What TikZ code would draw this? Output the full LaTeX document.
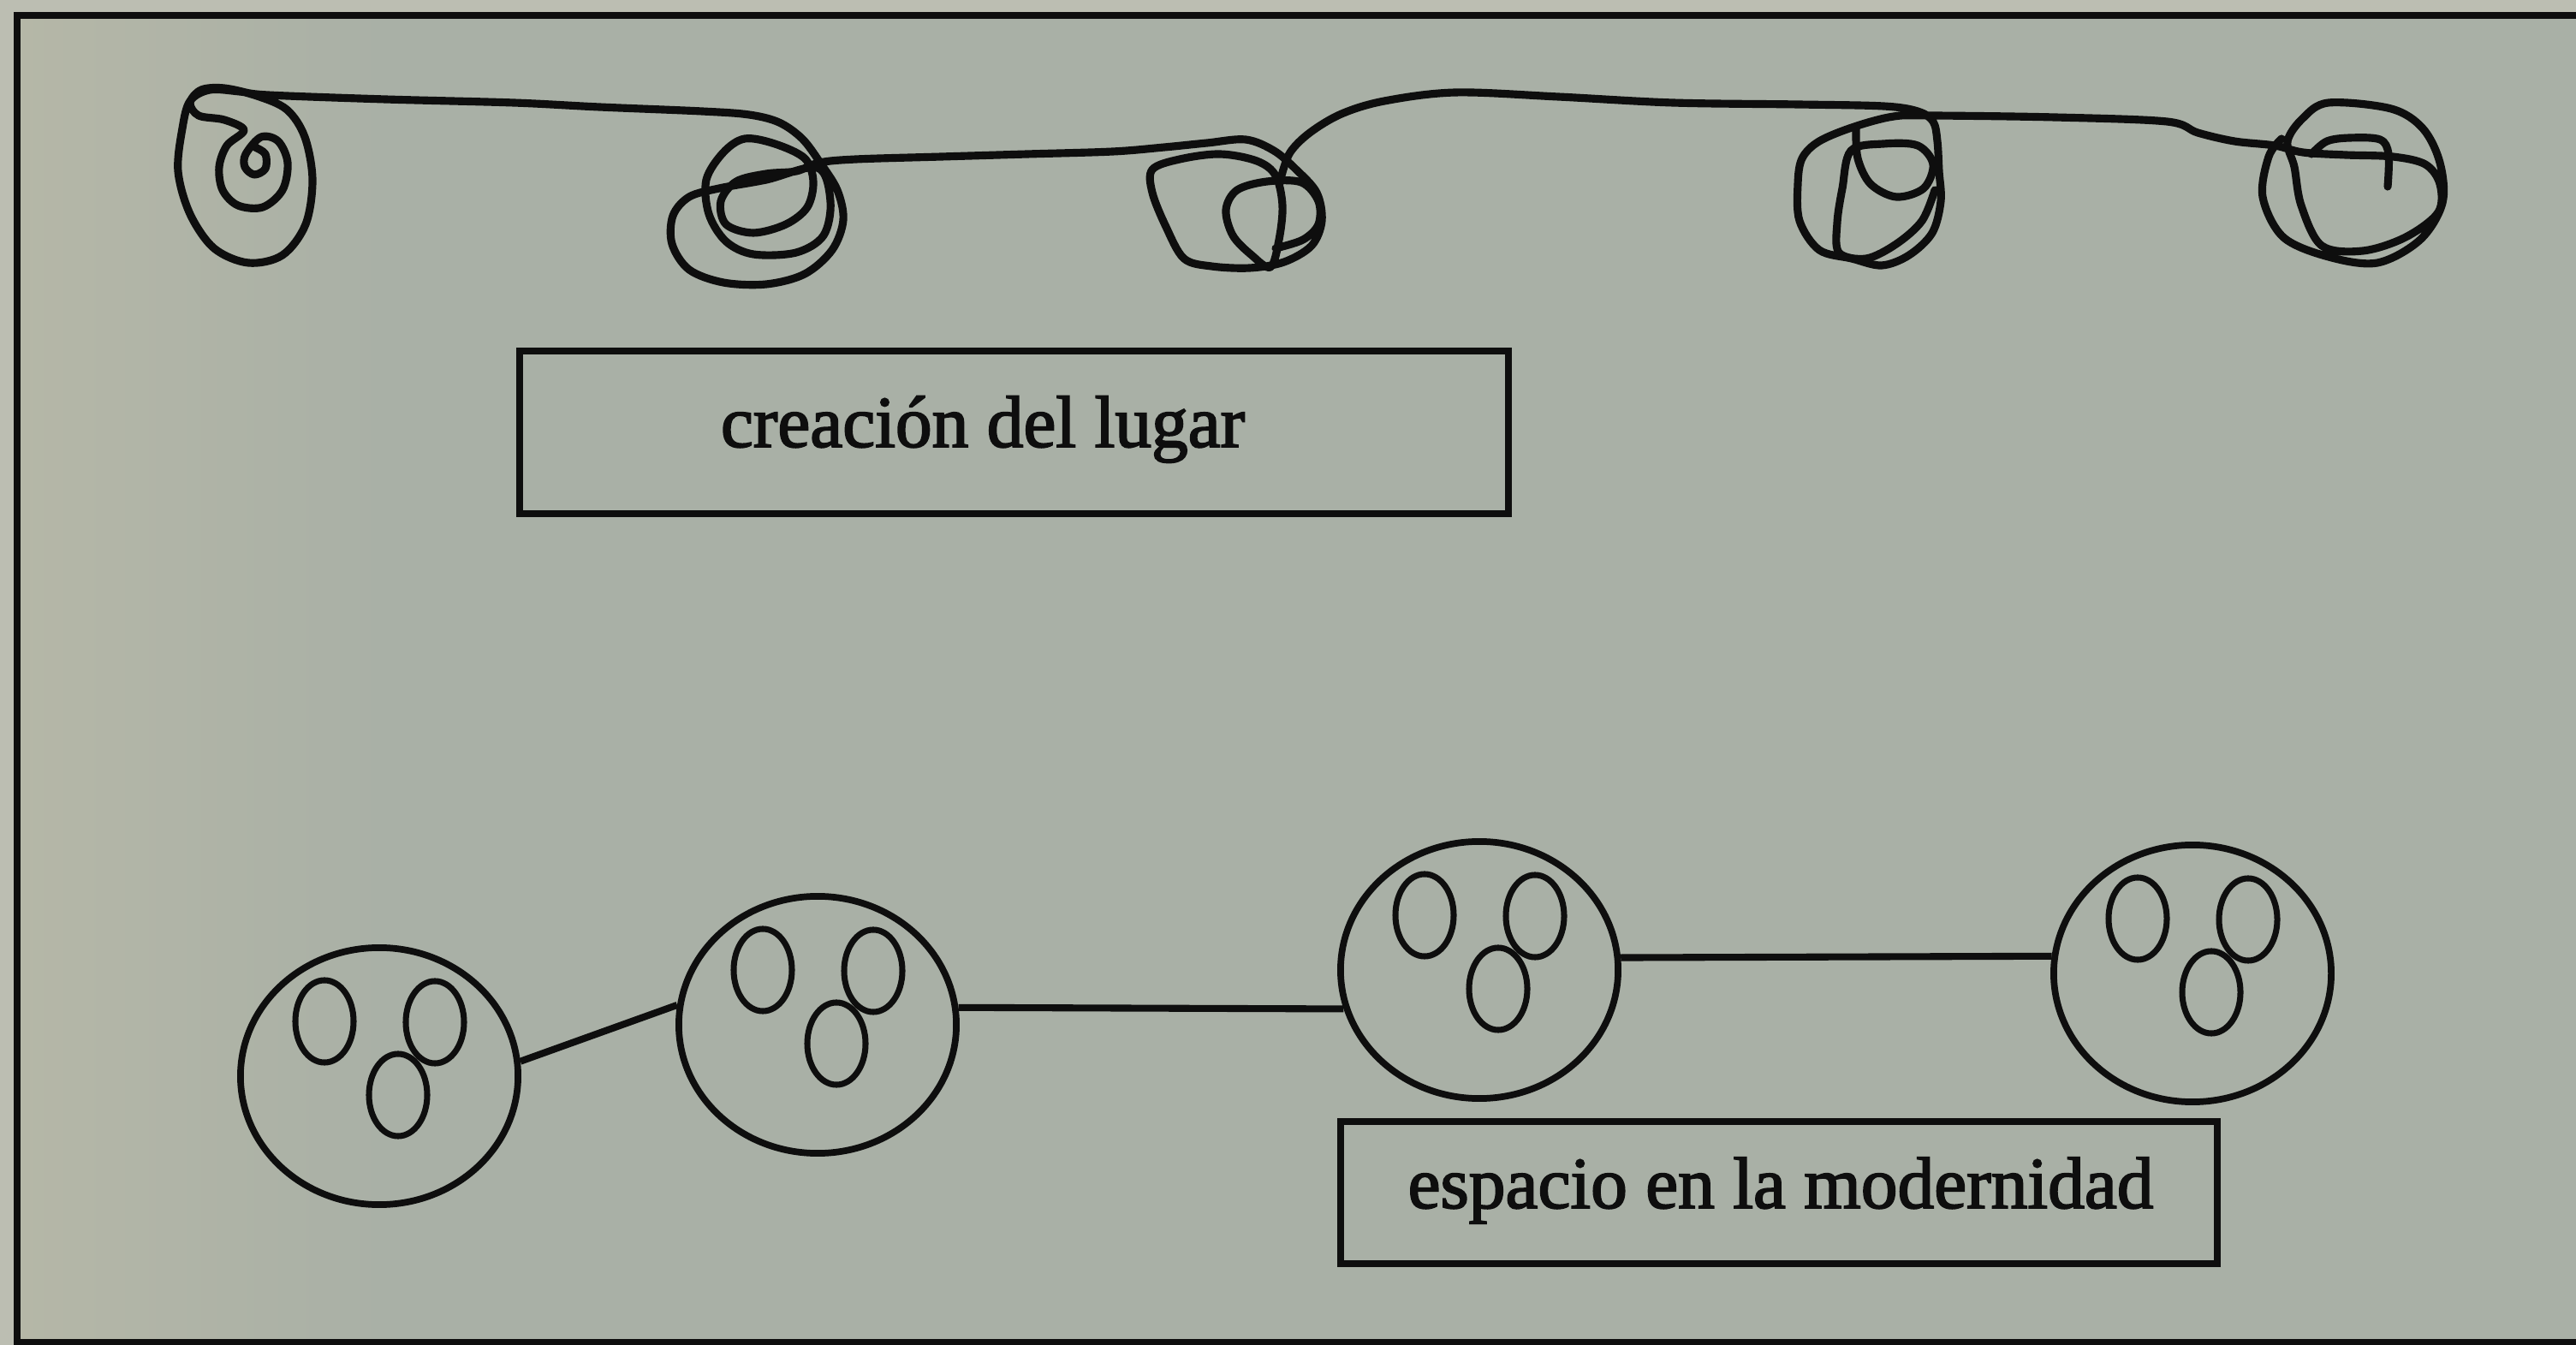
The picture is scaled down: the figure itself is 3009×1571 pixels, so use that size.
\documentclass[tikz,border=0pt]{standalone}
\usepackage{fontspec}
\setmainfont{Liberation Serif}
\newfontfamily\labelfont[FakeBold=2.2]{Liberation Serif}
\usetikzlibrary{shapes.geometric,calc}
\definecolor{paper}{RGB}{169,176,166}
\definecolor{paperleft}{RGB}{181,183,167}
\definecolor{paperedge}{RGB}{188,190,178}
\definecolor{ink}{RGB}{14,14,14}
\begin{document}
\begin{tikzpicture}[x=0.01cm,y=-0.01cm,
  bigring/.style={draw=ink, ellipse, line width=2.2pt, minimum width=3.24cm, minimum height=3.0cm, inner sep=0pt},
  smallring/.style={draw=ink, ellipse, line width=2pt, minimum width=0.68cm, minimum height=0.96cm, inner sep=0pt},
  labelbox/.style={draw=ink, rectangle, line width=2.3pt, inner sep=0pt},
  labeltext/.style={font=\labelfont\fontsize{24.3}{28}\selectfont, inner sep=0pt, anchor=base, text=ink},
  link/.style={draw=ink, line width=2.3pt},
  scribble/.style={draw=ink, line width=2.6pt, line cap=round, line join=round},
  frameline/.style={draw=ink, line width=2.2pt}]
\useasboundingbox (0,0) rectangle (3009,1571);
% paper
\fill[paper] (0,0) rectangle (3009,1571);
\shade[left color=paperleft, right color=paper] (20,18) rectangle (450,1568);
\fill[paperedge] (0,0) rectangle (20,1571);
\fill[paperedge] (0,0) rectangle (3009,18);
% frame
\draw[frameline] (20,1571) -- (20,18) -- (3009,18);
\draw[frameline] (20,1568) -- (3009,1568);

% top scribble: S1, line, S2, line, S3
\draw[scribble] plot[smooth, tension=0.55] coordinates {(298,172) (310,180) (310,197) (297,204) (286,195) (287,180) (305,160) (325,165) (336,190) (330,222) (307,242) (278,240) (260,222) (256,195) (265,170) (285,152) (262,140) (232,135) (222,120) (235,105) (262,103) (300,112) (335,128) (356,160) (365,210) (357,262) (330,298) (290,307) (250,290) (222,250) (208,200) (213,150) (222,118) (245,105) (280,107) (313,111) (450,116) (600,120) (700,125) (820,130) (875,134) (910,143) (937,162) (958,190) (978,222) (985,257) (972,292) (940,320) (895,332) (845,330) (805,315) (785,285) (786,252) (805,230) (840,220) (895,210) (955,196) (970,235) (962,275) (930,295) (880,297) (848,282) (828,250) (825,210) (845,178) (870,162) (905,168) (940,185) (950,212) (943,242) (918,262) (880,272) (848,262) (842,235) (860,212) (895,203) (930,200) (957,190) (1000,186) (1100,183) (1200,180) (1300,177) (1360,172) (1410,167) (1455,163) (1488,176) (1514,198) (1538,225) (1544,258) (1532,287) (1500,306) (1460,313) (1415,311) (1383,302) (1362,265) (1346,225) (1346,198) (1378,186) (1425,180) (1468,188) (1490,205) (1498,240) (1494,280) (1484,312) (1462,298) (1440,275) (1432,245) (1445,222) (1480,212) (1520,213) (1540,235) (1540,262) (1522,280) (1490,290)};
% rising line, S4, line, S5
\draw[scribble] plot[smooth, tension=0.55] coordinates {(1497,205) (1507,178) (1530,155) (1567,133) (1617,118) (1700,108) (1820,113) (1954,120) (2100,122) (2200,124) (2240,130) (2258,142) (2263,165) (2265,200) (2267,235) (2257,272) (2230,298) (2198,310) (2163,302) (2125,292) (2102,258) (2100,215) (2105,185) (2125,165) (2166,148) (2212,136) (2256,135) (2400,137) (2531,142) (2567,155) (2610,165) (2657,170) (2690,178) (2740,181) (2795,183) (2833,192) (2850,215) (2848,248) (2810,277) (2760,293) (2712,287) (2688,240) (2680,195) (2672,165) (2690,138) (2720,120) (2793,127) (2830,150) (2850,190) (2853,237) (2827,280) (2777,307) (2720,300) (2667,277) (2643,230) (2650,183) (2665,162)};
% S4 inner strokes
\draw[scribble] plot[smooth, tension=0.55] coordinates {(2168,150) (2170,185) (2185,215) (2215,230) (2247,220) (2258,192) (2240,170) (2200,168) (2162,176) (2152,220) (2146,260) (2148,295) (2180,302) (2215,285) (2245,258) (2260,222)};
% S5 hook
\draw[scribble] plot[smooth, tension=0.55] coordinates {(2700,180) (2718,165) (2745,161) (2780,163) (2790,180) (2789,218)};

% boxes
\node[labelbox, minimum width=11.55cm, minimum height=1.90cm] (box1) at (1184.5,505) {};
\node[labeltext] (txt1) at (1148,522) {creación del lugar};
\node[labelbox, minimum width=10.24cm, minimum height=1.66cm] (box2) at (2078,1393) {};
\node[labeltext] (txt2) at (2080,1411) {espacio en la modernidad};

% bottom rings
\node[bigring] (C1) at (443,1257) {};
\node[bigring] (C2) at (955,1197) {};
\node[bigring] (C3) at (1728,1133) {};
\node[bigring] (C4) at (2561,1137) {};
\foreach \c in {C1,C2,C3,C4}{
  \node[smallring] (\c a) at ($(\c.center)+(-64,-64)$) {};
  \node[smallring] (\c b) at ($(\c.center)+(65,-63)$) {};
  \node[smallring] (\c c) at ($(\c.center)+(22,22)$) {};
}
\draw[link] (C1.6) -- (C2.172);
\draw[link] (C2.7) -- (C3.196);
\draw[link] (C3.5.3) -- (C4.173.3);
\end{tikzpicture}
\end{document}
